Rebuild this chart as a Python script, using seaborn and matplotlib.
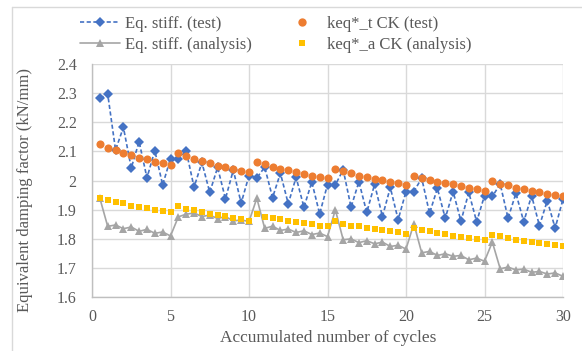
import numpy as np
import pandas as pd
import seaborn as sns
import matplotlib
matplotlib.use("Agg")
import matplotlib.pyplot as plt
from matplotlib.lines import Line2D
from matplotlib.ticker import FuncFormatter, MultipleLocator

# Accumulated number of cycles (half-cycle steps)
cycles = [0.5 * i for i in range(1, 61)]

# Equivalent stiffness from the test
eq_test = [
    2.283, 2.298, 2.105, 2.183, 2.043, 2.134, 2.009, 2.103, 1.985, 2.075,
    2.074, 2.102, 1.977, 2.062, 1.959, 2.045, 1.937, 2.036, 1.922, 2.017,
    2.009, 2.046, 1.941, 2.025, 1.920, 2.011, 1.908, 1.995, 1.885, 1.986,
    1.985, 2.037, 1.908, 1.996, 1.890, 1.987, 1.876, 1.976, 1.865, 1.962,
    1.962, 2.008, 1.887, 1.973, 1.870, 1.962, 1.860, 1.959, 1.858, 1.948,
    1.945, 1.988, 1.870, 1.956, 1.858, 1.948, 1.844, 1.931, 1.836, 1.936,
]

# Equivalent stiffness from the analysis
eq_analysis = [
    1.939, 1.842, 1.847, 1.834, 1.840, 1.825, 1.832, 1.818, 1.823, 1.809,
    1.875, 1.884, 1.888, 1.876, 1.881, 1.869, 1.876, 1.861, 1.864, 1.859,
    1.939, 1.835, 1.843, 1.828, 1.833, 1.821, 1.827, 1.814, 1.819, 1.807,
    1.899, 1.796, 1.799, 1.786, 1.793, 1.782, 1.788, 1.773, 1.777, 1.764,
    1.851, 1.751, 1.756, 1.742, 1.748, 1.739, 1.742, 1.727, 1.733, 1.722,
    1.788, 1.696, 1.702, 1.692, 1.695, 1.684, 1.687, 1.678, 1.682, 1.670,
]

# keq*_t CK (test)
keq_t = [
    2.126, 2.111, 2.104, 2.095, 2.088, 2.078, 2.073, 2.065, 2.059, 2.053,
    2.094, 2.083, 2.075, 2.067, 2.059, 2.050, 2.046, 2.040, 2.034, 2.030,
    2.065, 2.057, 2.048, 2.041, 2.037, 2.028, 2.022, 2.017, 2.011, 2.008,
    2.039, 2.032, 2.025, 2.017, 2.011, 2.006, 2.001, 1.996, 1.993, 1.986,
    2.017, 2.009, 2.002, 1.996, 1.992, 1.987, 1.980, 1.975, 1.970, 1.964,
    1.998, 1.987, 1.983, 1.974, 1.970, 1.963, 1.961, 1.954, 1.950, 1.948,
]

# keq*_a CK (analysis)
keq_a = [
    1.940, 1.932, 1.927, 1.921, 1.913, 1.908, 1.904, 1.900, 1.896, 1.890,
    1.911, 1.903, 1.898, 1.892, 1.886, 1.882, 1.877, 1.872, 1.867, 1.862,
    1.883, 1.876, 1.872, 1.866, 1.860, 1.857, 1.852, 1.850, 1.845, 1.842,
    1.859, 1.850, 1.845, 1.842, 1.838, 1.834, 1.829, 1.825, 1.821, 1.817,
    1.835, 1.829, 1.825, 1.819, 1.816, 1.810, 1.807, 1.802, 1.800, 1.796,
    1.813, 1.808, 1.802, 1.795, 1.793, 1.789, 1.785, 1.782, 1.778, 1.775,
]

labels = ["Eq. stiff. (test)", "Eq. stiff. (analysis)",
          "keq*_t CK (test)", "keq*_a CK (analysis)"]
x_ticks = [0, 5, 10, 15, 20, 25, 30]

BLUE, GRAY, ORANGE, YELLOW = "#4472C4", "#A5A5A5", "#ED7D31", "#FFC000"
TEXT = "#595959"
GRID = "#D9D9D9"

sns.set_theme(style="white")
plt.rcParams["font.family"] = ["Liberation Serif", "DejaVu Serif"]
plt.rcParams["text.color"] = TEXT
plt.rcParams["axes.labelcolor"] = TEXT
plt.rcParams["xtick.color"] = TEXT
plt.rcParams["ytick.color"] = TEXT

df = pd.DataFrame({"cycles": cycles, "test": eq_test, "analysis": eq_analysis,
                   "keq_t": keq_t, "keq_a": keq_a})

fig = plt.figure(figsize=(5.82, 3.51), dpi=100)
ax = fig.add_axes([92 / 582, 1 - 296.7 / 351, (563 - 92) / 582, (296.7 - 64.3) / 351])

sns.lineplot(data=df, x="cycles", y="test", ax=ax, color=BLUE, linestyle=(0, (2.5, 1.5)),
             linewidth=1.2, marker="D", markersize=4.6, markeredgewidth=0,
             markerfacecolor=BLUE, zorder=4)
sns.lineplot(data=df, x="cycles", y="analysis", ax=ax, color=GRAY, linewidth=1.2,
             marker="^", markersize=6, markeredgewidth=0, markerfacecolor=GRAY, zorder=3)
sns.scatterplot(data=df, x="cycles", y="keq_a", ax=ax, color=YELLOW, marker="s",
                s=22, linewidth=0, zorder=5)
sns.scatterplot(data=df, x="cycles", y="keq_t", ax=ax, color=ORANGE, marker="o",
                s=34, linewidth=0, zorder=6)

ax.set_xlim(0, 30)
ax.set_ylim(1.6, 2.4)
ax.set_xticks(x_ticks)
ax.yaxis.set_major_locator(MultipleLocator(0.1))
ax.yaxis.set_major_formatter(FuncFormatter(lambda v, p: f"{round(v, 2):g}"))
ax.grid(True, color=GRID, linewidth=1.0)
ax.set_axisbelow(True)
for side in ("top", "right"):
    ax.spines[side].set_visible(False)
for side in ("left", "bottom"):
    ax.spines[side].set_color("#BFBFBF")
    ax.spines[side].set_linewidth(1.0)
ax.tick_params(axis="both", length=0, labelsize=11.5)
ax.tick_params(axis="y", pad=11)
ax.tick_params(axis="x", pad=9)

ax.set_xlabel("Accumulated number of cycles", fontsize=12.5)
ax.set_ylabel("Equivalent damping factor (kN/mm)", fontsize=12)
ax.xaxis.set_label_coords(0.502, -0.145)
ax.yaxis.set_label_coords(-0.125, 0.46)

handles = [
    Line2D([], [], color=BLUE, linestyle=(0, (2.5, 1.5)), linewidth=1.2, marker="D",
           markersize=4.6, markeredgewidth=0),
    Line2D([], [], color=GRAY, linewidth=1.2, marker="^", markersize=6, markeredgewidth=0),
    Line2D([], [], color=ORANGE, linestyle="none", marker="o", markersize=6, markeredgewidth=0),
    Line2D([], [], color=YELLOW, linestyle="none", marker="s", markersize=4.5, markeredgewidth=0),
]
fig.legend(handles, labels, ncol=2, loc="upper left",
           bbox_to_anchor=(80 / 582, 1 - 16 / 351), frameon=False, fontsize=12,
           handlelength=2.4, handletextpad=0.3, columnspacing=1.8,
           labelspacing=0.3, borderpad=0, borderaxespad=0)

# Light chart-area border along the top and left
fig.add_artist(Line2D([12 / 582, 1], [1 - 7 / 351, 1 - 7 / 351], color=GRID, linewidth=1.0))
fig.add_artist(Line2D([12 / 582, 12 / 582], [0, 1 - 7 / 351], color=GRID, linewidth=1.0))

fig.savefig("out.png", dpi=100)
